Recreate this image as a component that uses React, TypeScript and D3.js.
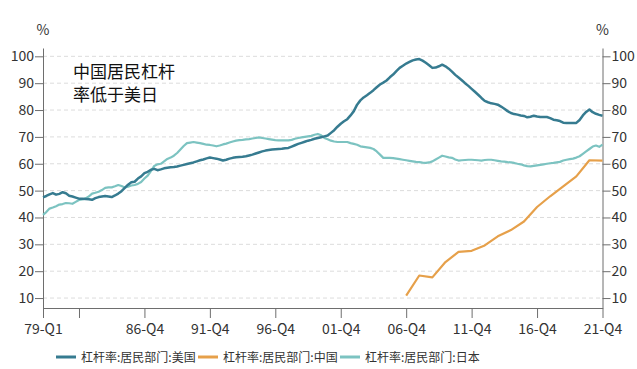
import { useEffect, useRef } from "react";
import * as d3 from "d3";

// quarters 79-Q1 .. 21-Q4
const years = d3.range(1979, 2022);
const quarters = years.flatMap((y) =>
  [1, 2, 3, 4].map((q) => `${String(y % 100).padStart(2, "0")}-Q${q}`)
);

// 杠杆率:居民部门:美国 (quarterly, one row per year)
const usValues = [
  47.5, 48.0, 48.6, 49.1,
  48.5, 48.8, 49.4, 49.0,
  48.1, 47.8, 47.4, 47.0,
  47.0, 46.9, 46.8, 46.6,
  47.2, 47.6, 47.8, 48.0,
  47.8, 47.6, 48.2, 48.9,
  49.8, 51.0, 52.2, 53.1,
  53.3, 54.5, 55.3, 56.5,
  57.0, 57.8, 58.1, 57.6,
  57.9, 58.3, 58.5, 58.7,
  58.8, 59.0, 59.3, 59.6,
  59.9, 60.2, 60.5, 60.9,
  61.3, 61.6, 62.0, 62.3,
  62.1, 61.9, 61.6, 61.2,
  61.5, 61.9, 62.2, 62.4,
  62.5, 62.6, 62.8, 63.1,
  63.4, 63.8, 64.2, 64.6,
  64.9, 65.1, 65.3, 65.4,
  65.5, 65.6, 65.8, 65.9,
  66.4, 66.9, 67.4, 67.8,
  68.2, 68.6, 68.9, 69.3,
  69.6, 69.9, 70.2, 70.5,
  71.5, 72.5, 73.8, 74.9,
  75.8, 76.6, 78.0, 79.6,
  82.0, 83.6, 84.7, 85.5,
  86.4, 87.4, 88.5, 89.5,
  90.2, 91.0, 92.2, 93.2,
  94.5, 95.7, 96.5, 97.3,
  97.9, 98.5, 98.8, 99.0,
  98.4, 97.6, 96.7, 95.7,
  95.8, 96.3, 96.9, 96.3,
  95.4, 94.3, 93.1, 92.1,
  91.1, 90.0, 89.0, 87.9,
  86.8, 85.7, 84.5, 83.4,
  82.9, 82.5, 82.3, 82.0,
  81.3, 80.5, 79.6, 78.9,
  78.5, 78.3, 78.0, 77.8,
  77.3, 77.5, 77.9, 77.6,
  77.4, 77.4, 77.4, 77.0,
  76.4, 76.2, 75.9, 75.3,
  75.2, 75.2, 75.2, 75.2,
  76.3, 78.0, 79.3, 80.2,
  79.2, 78.6, 78.2, 77.9,
];

// 杠杆率:居民部门:日本 (quarterly)
const jpValues = [
  41.0, 42.0, 43.3, 43.7,
  44.2, 44.8, 45.0, 45.4,
  45.3, 45.1, 45.8, 46.5,
  46.7, 47.1, 47.8, 48.9,
  49.2, 49.6, 50.2, 51.0,
  51.2, 51.2, 51.6, 52.1,
  51.7, 51.2, 51.5, 51.9,
  52.1, 52.5, 53.2, 54.5,
  55.6, 57.3, 59.2, 59.8,
  60.0, 60.9, 61.8, 62.3,
  63.0, 64.0, 65.3, 66.6,
  67.7, 67.9, 68.1, 67.9,
  67.7, 67.4, 67.1, 67.0,
  66.8, 66.5, 66.8, 67.2,
  67.5, 67.9, 68.3, 68.6,
  68.8, 68.9, 69.1, 69.2,
  69.4, 69.6, 69.8, 69.6,
  69.4, 69.2, 69.0, 68.8,
  68.7, 68.7, 68.7, 68.7,
  68.9, 69.3, 69.6, 69.8,
  70.0, 70.2, 70.4, 70.8,
  71.1, 70.6, 69.6, 69.1,
  68.6, 68.3, 68.1, 68.1,
  68.1, 68.1, 67.7, 67.4,
  67.1, 66.5, 66.3, 66.1,
  65.9, 65.5, 64.6, 63.4,
  62.2, 62.2, 62.2, 62.1,
  61.9, 61.7, 61.5, 61.3,
  61.1, 60.9, 60.7, 60.6,
  60.4, 60.3, 60.5, 60.9,
  61.6, 62.3, 63.0, 62.7,
  62.4, 62.2, 61.6, 61.2,
  61.3, 61.4, 61.5, 61.5,
  61.4, 61.3, 61.2, 61.4,
  61.5, 61.5, 61.3, 61.1,
  60.9, 60.8, 60.6, 60.5,
  60.3, 60.0, 59.8, 59.4,
  59.1, 59.0, 59.2, 59.4,
  59.6, 59.8, 60.0, 60.2,
  60.3, 60.5, 60.7, 61.2,
  61.5, 61.7, 61.9, 62.3,
  62.8, 63.7, 64.6, 65.5,
  66.4, 66.8, 66.3, 67.1,
];

// 杠杆率:居民部门:中国 (annual, Q4)
const cnQuarters = [
  "06-Q4", "07-Q4", "08-Q4", "09-Q4", "10-Q4", "11-Q4", "12-Q4", "13-Q4",
  "14-Q4", "15-Q4", "16-Q4", "17-Q4", "18-Q4", "19-Q4", "20-Q4", "21-Q4",
];
const cnValues = [
  10.9, 18.4, 17.7, 23.4, 27.2, 27.6, 29.6, 33.0,
  35.3, 38.5, 43.9, 47.9, 51.6, 55.3, 61.3, 61.2,
];

const yTicks = [10, 20, 30, 40, 50, 60, 70, 80, 90, 100];
const xTickQuarters = ["79-Q1", "81-Q4", "86-Q4", "91-Q4", "96-Q4", "01-Q4", "06-Q4", "11-Q4", "16-Q4", "21-Q4"];
const xTickLabels = ["79-Q1", "", "86-Q4", "91-Q4", "96-Q4", "01-Q4", "06-Q4", "11-Q4", "16-Q4", "21-Q4"];

const seriesNames = ["杠杆率:居民部门:美国", "杠杆率:居民部门:中国", "杠杆率:居民部门:日本"];
const colors = ["#367b90", "#e6a04a", "#7cc3c1"];

const width = 637;
const height = 369;
const font = "'Noto Sans CJK SC', 'Noto Sans', sans-serif";

export default function App() {
  const ref = useRef<SVGSVGElement>(null);

  useEffect(() => {
    document.body.style.margin = "0";
    const svg = d3.select(ref.current);
    svg.selectAll("*").remove();

    const left = 43, right = 602.5, top = 48, bottom = 308;

    const x = d3.scaleLinear().domain([0, quarters.length - 1]).range([left, right]);
    const y = d3.scaleLinear().domain([6.3, 103.1]).range([bottom, top]);

    // grid
    svg.append("g")
      .selectAll("line")
      .data(yTicks)
      .join("line")
      .attr("x1", left).attr("x2", right)
      .attr("y1", (d) => y(d)).attr("y2", (d) => y(d))
      .attr("stroke", "#dcdcdc")
      .attr("stroke-dasharray", "4,3");

    const styleAxis = (g: any) => {
      g.select(".domain").attr("stroke", "#6e6e6e");
      g.selectAll(".tick line").attr("stroke", "#6e6e6e");
      g.selectAll(".tick text").attr("fill", "#333").attr("font-size", 14).attr("font-family", font);
    };

    svg.append("g")
      .attr("transform", `translate(${left},0)`)
      .call(d3.axisLeft(y).tickValues(yTicks).tickSize(8).tickSizeOuter(0).tickPadding(1))
      .call(styleAxis);

    svg.append("g")
      .attr("transform", `translate(${right},0)`)
      .call(d3.axisRight(y).tickValues(yTicks).tickSize(8).tickSizeOuter(0).tickPadding(1))
      .call(styleAxis);

    svg.append("g")
      .attr("transform", `translate(0,${bottom})`)
      .call(
        d3.axisBottom(x)
          .tickValues(xTickQuarters.map((q) => quarters.indexOf(q)))
          .tickFormat((_d, i) => xTickLabels[i])
          .tickSize(10)
          .tickSizeOuter(0)
          .tickPadding(6)
      )
      .call(styleAxis);

    // % units
    [left, right].forEach((px) => {
      svg.append("text")
        .attr("x", px).attr("y", 35)
        .attr("text-anchor", "middle")
        .attr("font-family", font).attr("font-size", 14).attr("fill", "#333")
        .text("%");
    });

    const line = d3.line<[number, number]>()
      .x((d) => x(d[0]))
      .y((d) => y(d[1]));

    const us = usValues.map((v, i) => [i, v] as [number, number]);
    const jp = jpValues.map((v, i) => [i, v] as [number, number]);
    const cn = cnValues.map((v, i) => [quarters.indexOf(cnQuarters[i]), v] as [number, number]);

    const plot = [
      { data: jp, color: colors[2], w: 2.2 },
      { data: cn, color: colors[1], w: 2.2 },
      { data: us, color: colors[0], w: 2.5 },
    ];
    plot.forEach((s) => {
      svg.append("path")
        .datum(s.data)
        .attr("fill", "none")
        .attr("stroke", s.color)
        .attr("stroke-width", s.w)
        .attr("stroke-linejoin", "round")
        .attr("d", line);
    });

    // annotation
    const note = svg.append("text")
      .attr("font-family", font).attr("font-size", 17).attr("fill", "#111");
    note.append("tspan").attr("x", 73).attr("y", 78).text("中国居民杠杆");
    note.append("tspan").attr("x", 73).attr("y", 101).text("率低于美日");

    // legend
    const legendX = [56, 198, 340];
    const lg = svg.append("g");
    seriesNames.forEach((name, i) => {
      lg.append("line")
        .attr("x1", legendX[i]).attr("x2", legendX[i] + 20)
        .attr("y1", 357).attr("y2", 357)
        .attr("stroke", colors[i]).attr("stroke-width", 3);
      lg.append("text")
        .attr("x", legendX[i] + 25).attr("y", 361.5)
        .attr("font-family", font).attr("font-size", 12).attr("fill", "#333")
        .text(name);
    });
  }, []);

  return <svg ref={ref} width={width} height={height} style={{ display: "block" }} />;
}
